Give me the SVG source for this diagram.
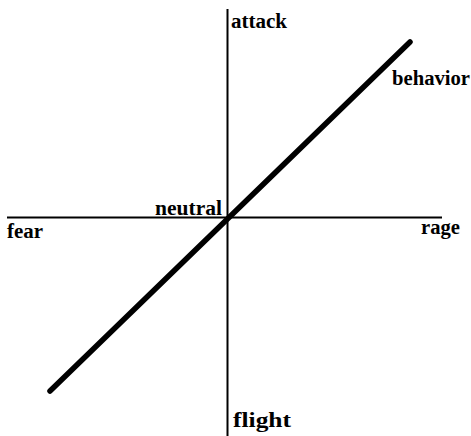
<svg xmlns="http://www.w3.org/2000/svg" width="471" height="436" viewBox="0 0 471 436">
<style>
.axis{stroke:#000;stroke-width:2;fill:none}
.beh{stroke:#000;stroke-width:5.5;stroke-linecap:round;fill:none}
.lbl{font-family:'Liberation Serif','DejaVu Serif',serif;font-size:20px;font-weight:bold;fill:#000}
</style>
<rect width="471" height="436" fill="#fff"/>
<g id="connectors">
<line class="axis" x1="227.5" y1="9" x2="227.5" y2="436"/>
<line class="axis" x1="7" y1="217.5" x2="442" y2="217.5"/>
<line class="beh" x1="50" y1="391" x2="410" y2="42"/>
</g>
<g id="attack"><text class="lbl" x="231" y="28" textLength="56" lengthAdjust="spacingAndGlyphs">attack</text></g>
<g id="behavior"><text class="lbl" x="392" y="85" textLength="78" lengthAdjust="spacingAndGlyphs">behavior</text></g>
<g id="neutral"><text class="lbl" x="155" y="215" textLength="67" lengthAdjust="spacingAndGlyphs">neutral</text></g>
<g id="fear"><text class="lbl" x="7" y="238" textLength="36" lengthAdjust="spacingAndGlyphs">fear</text></g>
<g id="rage"><text class="lbl" x="421" y="234" textLength="39" lengthAdjust="spacingAndGlyphs">rage</text></g>
<g id="flight"><text class="lbl" x="233" y="427" textLength="58" lengthAdjust="spacingAndGlyphs">flight</text></g>
</svg>
